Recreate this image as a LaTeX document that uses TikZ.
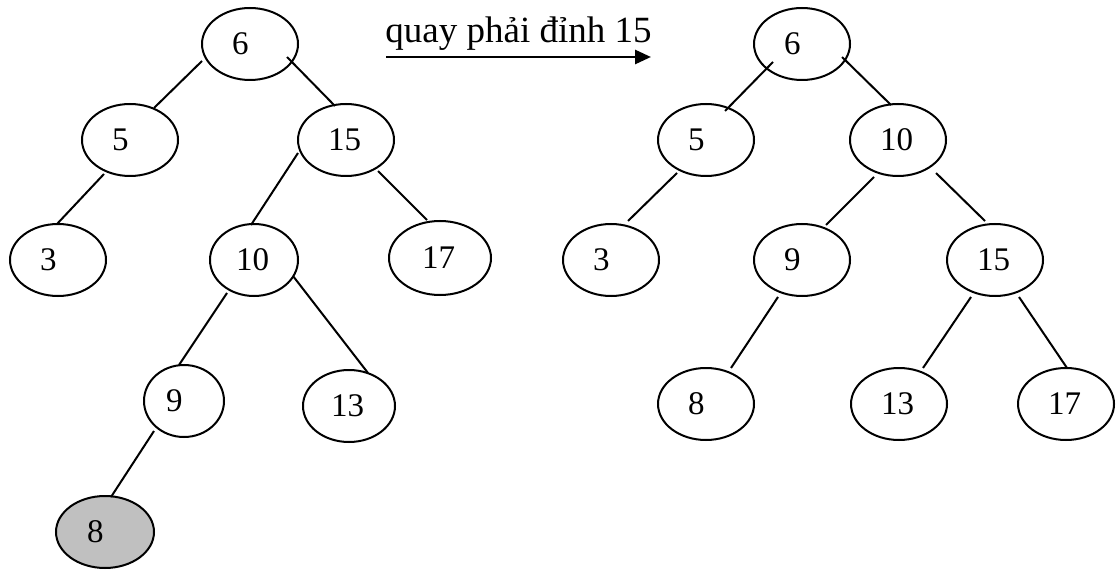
\documentclass[tikz,border=0pt]{standalone}
\usepackage{fontspec}
\setmainfont{Liberation Serif}
\usetikzlibrary{arrows.meta,calc,shapes.geometric}
\definecolor{hlgray}{RGB}{192,192,192}
\begin{document}
\begin{tikzpicture}[x=0.5pt,y=-0.5pt,
  tn/.style={ellipse,draw,line width=1pt,inner sep=0pt,minimum width=48pt,minimum height=36pt,
    text width=18pt,align=left,font=\fontsize{16.5}{18}\selectfont},
  hl/.style={tn,fill=hlgray},
  edge/.style={line width=1pt},
  title/.style={font=\fontsize{18.5}{20}\selectfont,anchor=base west,inner sep=0pt}]
\useasboundingbox (0,0) rectangle (1117,571);

% left tree
\node[tn] (L6) at (250,44) {6};
\node[tn] (L5) at (130,140) {5};
\node[tn] (L15) at (346,140) {15};
\node[tn] (L3) at (58,260) {3};
\node[tn,minimum width=44pt] (L10) at (254,260) {10};
\node[tn,minimum width=51pt,minimum height=37pt] (L17) at (440,258) {17};
\node[tn,minimum width=40pt] (L9) at (184,401) {9};
\node[tn,minimum width=46pt] (L13) at (349,406) {13};
\node[hl,minimum width=49pt] (L8) at (105,532) {8};

\draw[edge] ($(L6)+(-48,17)$) -- ($(L5)+(24,-32)$);
\draw[edge] ($(L6)+(37,13)$) -- ($(L15)+(-11,-34)$);
\draw[edge] ($(L5)+(-26,34)$) -- ($(L3)+(-1,-36)$);
\draw[edge] ($(L15)+(-48,13)$) -- ($(L10)+(-3,-35)$);
\draw[edge] ($(L15)+(32,31)$) -- ($(L17)+(-13,-38)$);
\draw[edge] ($(L10)+(-27,33)$) -- ($(L9)+(-5,-36)$);
\draw[edge] ($(L10)+(39,16)$) -- ($(L13)+(19,-33)$);
\draw[edge] ($(L9)+(-30,30)$) -- ($(L8)+(6,-35)$);

% arrow with caption
\node[title] (cap) at (385,43) {quay phải đỉnh 15};
\coordinate (a1) at (386,57);
\coordinate (a2) at (651,57);
\draw[line width=1.4pt,-{Triangle[length=8pt,width=7pt]}] (a1) -- (a2);

% right tree
\node[tn] (R6) at (802,44) {6};
\node[tn] (R5) at (706,140) {5};
\node[tn] (R10) at (898,140) {10};
\node[tn] (R3) at (611,260) {3};
\node[tn] (R9) at (802,260) {9};
\node[tn] (R15) at (995,260) {15};
\node[tn] (R8) at (706,404) {8};
\node[tn] (R13) at (899,404) {13};
\node[tn] (R17) at (1066,404) {17};

\draw[edge] ($(R6)+(-29,18)$) -- ($(R5)+(19,-29)$);
\draw[edge] ($(R6)+(40,13)$) -- ($(R10)+(-7,-35)$);
\draw[edge] ($(R5)+(-29,33)$) -- ($(R3)+(17,-39)$);
\draw[edge] ($(R10)+(-24,37)$) -- ($(R9)+(24,-35)$);
\draw[edge] ($(R10)+(38,33)$) -- ($(R15)+(-10,-39)$);
\draw[edge] ($(R9)+(-24,37)$) -- ($(R8)+(25,-36)$);
\draw[edge] ($(R15)+(-24,37)$) -- ($(R13)+(24,-36)$);
\draw[edge] ($(R15)+(24,37)$) -- ($(R17)+(1,-36)$);
\end{tikzpicture}
\end{document}
